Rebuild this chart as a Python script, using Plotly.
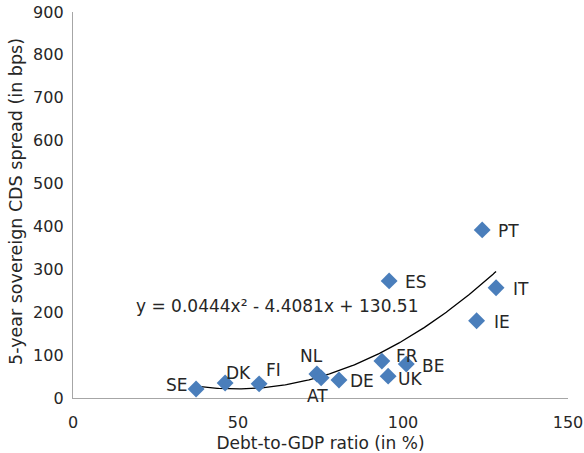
import numpy as np
import plotly.graph_objects as go

countries = ["SE", "DK", "FI", "NL", "AT", "DE", "FR", "UK", "BE", "ES", "IE", "IT", "PT"]
debt_to_gdp = [37.3, 46.1, 56.4, 73.9, 75.2, 80.6, 93.6, 95.5, 101.0, 95.8, 122.3, 128.2, 124.0]
cds_spread = [21, 35, 33, 56, 47, 42, 86, 51, 79, 273, 180, 257, 392]

# label offsets in pixels (style only)
label_shift = {
    "SE": (-19, 4), "DK": (13, 10), "FI": (14, 14), "NL": (-5, 18), "AT": (-4, -18),
    "DE": (23, -1), "FR": (25, 5), "UK": (22, -3), "BE": (27, -2), "ES": (27, -1),
    "IE": (25, -1), "IT": (25, -1), "PT": (26, -1),
}

trend_coef = [0.0444, -4.4081, 130.51]
trend_x_range = [37.3, 128.2]
trend_label = "y = 0.0444x² - 4.4081x + 130.51"
x_title = "Debt-to-GDP ratio (in %)"
y_title = "5-year sovereign CDS spread (in bps)"
x_ticks = [0, 50, 100, 150]
y_ticks = [0, 100, 200, 300, 400, 500, 600, 700, 800, 900]

FONT = "DejaVu Sans"
TXT = "#262626"
FS_TICK = 16
FS_TXT = 17
fig = go.Figure()

tx = np.linspace(trend_x_range[0], trend_x_range[1], 200)
ty = np.polyval(trend_coef, tx)
fig.add_trace(go.Scatter(x=tx, y=ty, mode="lines", line=dict(color="black", width=1.3),
                         hoverinfo="skip", showlegend=False))

fig.add_trace(go.Scatter(
    x=debt_to_gdp, y=cds_spread, mode="markers",
    marker=dict(symbol="diamond", size=13, color="#4a7ebb"),
    showlegend=False,
))

for c, xv, yv in zip(countries, debt_to_gdp, cds_spread):
    dx, dy = label_shift[c]
    fig.add_annotation(x=xv, y=yv, text=c, showarrow=False, xshift=dx, yshift=dy,
                       font=dict(family=FONT, size=FS_TXT, color=TXT))

# plot area spans page x 73..568, y 12..398
fig.add_annotation(xref="paper", yref="paper", x=(277.5 - 73) / 495, y=(398 - 318) / 386,
                   text=trend_label, showarrow=False,
                   font=dict(family=FONT, size=FS_TXT, color=TXT))

fig.add_annotation(xref="paper", yref="paper", x=(16 - 73) / 495, y=(398 - 202) / 386,
                   text=y_title, textangle=-90, showarrow=False,
                   xanchor="center", yanchor="middle",
                   font=dict(family=FONT, size=17.5, color=TXT))

fig.update_layout(
    width=584, height=453,
    margin=dict(l=73, r=16, t=12, b=55),
    paper_bgcolor="white", plot_bgcolor="white",
    font=dict(family=FONT, size=FS_TXT, color=TXT),
    xaxis=dict(range=[0, 150], tickvals=x_ticks, showgrid=False, zeroline=False,
               showline=True, linecolor="#a6a6a6", linewidth=1.3, ticks="",
               automargin=False, ticklabelstandoff=10,
               tickfont=dict(family=FONT, size=FS_TICK, color=TXT),
               title=dict(text=x_title, standoff=6,
                          font=dict(family=FONT, size=FS_TXT, color=TXT))),
    yaxis=dict(range=[0, 900], tickvals=y_ticks, showgrid=False, zeroline=False,
               showline=True, linecolor="#a6a6a6", linewidth=1.3, ticks="",
               automargin=False, ticklabelstandoff=5,
               tickfont=dict(family=FONT, size=FS_TICK, color=TXT)),
)

fig.write_html("out.html", config={"displayModeBar": False},
               post_script="document.body.style.margin='0';")
